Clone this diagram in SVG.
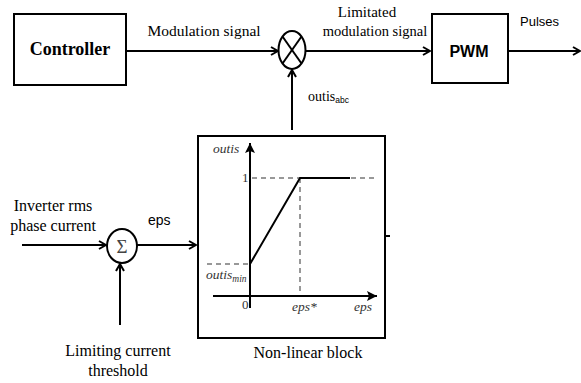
<svg xmlns="http://www.w3.org/2000/svg" width="581" height="383" viewBox="0 0 581 383">
<defs>
<marker id="arr" viewBox="0 0 10 10" refX="9" refY="5" markerWidth="10" markerHeight="10" markerUnits="userSpaceOnUse" orient="auto">
<polyline points="2,1 9,5 2,9" fill="none" stroke="#000" stroke-width="2"/>
</marker>
<marker id="tri" viewBox="0 0 10 10" refX="10" refY="5" markerWidth="10" markerHeight="10" markerUnits="userSpaceOnUse" orient="auto">
<path d="M0,0 L10,5 L0,10 L2,5 Z" fill="#000"/>
</marker>
</defs>
<style>
.box{fill:#fff;stroke:#000;stroke-width:2}
.ln{fill:none;stroke:#000;stroke-width:2}
.dash{fill:none;stroke:#777;stroke-width:1.5;stroke-dasharray:5,4}
.serif{font-family:"Liberation Serif","Times New Roman",serif;fill:#000}
.sans{font-family:"Liberation Sans",Arial,sans-serif;fill:#000}
.it{font-family:"Liberation Serif","Times New Roman",serif;font-style:italic;fill:#333}
</style>
<rect width="581" height="383" fill="#fff"/>
<g id="controller">
<rect class="box" x="14" y="14" width="112" height="71"/>
<text class="serif" x="70" y="55" font-size="18" font-weight="bold" text-anchor="middle">Controller</text>
</g>
<g id="multiplier">
<ellipse class="ln" cx="292" cy="50" rx="13.5" ry="19"/>
<line class="ln" x1="282.5" y1="36.5" x2="301.5" y2="63.5" stroke-width="1.8"/>
<line class="ln" x1="301.5" y1="36.5" x2="282.5" y2="63.5" stroke-width="1.8"/>
</g>
<g id="pwm">
<rect class="box" x="432" y="14" width="76" height="69"/>
<text class="sans" x="469" y="57" font-size="16" font-weight="bold" text-anchor="middle">PWM</text>
</g>
<g id="sum">
<ellipse class="ln" cx="122" cy="246" rx="15" ry="17" stroke-width="1.8"/>
<text class="serif" x="122" y="253" font-size="19" text-anchor="middle" style="fill:#444">Σ</text>
</g>
<g id="nonlinear">
<rect class="box" x="198" y="136" width="187" height="202"/>
<line class="dash" x1="252" y1="178" x2="378" y2="178"/>
<line class="dash" x1="300" y1="178" x2="300" y2="296"/>
<line class="dash" x1="207" y1="264" x2="250" y2="264"/>
<line class="ln" x1="250" y1="308" x2="250" y2="143" marker-end="url(#tri)" stroke-width="1.5"/>
<line class="ln" x1="213" y1="296" x2="377" y2="296" marker-end="url(#tri)" stroke-width="1.5"/>
<polyline class="ln" points="250,264 300,178 350,178"/>
<text class="it" x="213" y="153" font-size="13.5">outis</text>
<text class="serif" x="242" y="182" font-size="13" style="fill:#333">1</text>
<text class="it" x="206" y="279" font-size="13.5">outis<tspan font-size="9.5" dy="3">min</tspan></text>
<text class="serif" x="242" y="309" font-size="13" style="fill:#333">0</text>
<text class="it" x="292" y="311" font-size="13.5">eps*</text>
<text class="it" x="354" y="311" font-size="13.5">eps</text>
<line class="ln" x1="385" y1="236" x2="390" y2="236" stroke-width="1.5"/>
<text class="serif" x="308" y="358" font-size="16" text-anchor="middle">Non-linear block</text>
</g>
<g id="connectors">
<line class="ln" x1="126" y1="51" x2="278" y2="51" marker-end="url(#arr)"/>
<line class="ln" x1="306" y1="51" x2="430" y2="51" marker-end="url(#arr)"/>
<line class="ln" x1="508" y1="51" x2="580" y2="51" marker-end="url(#arr)"/>
<line class="ln" x1="292" y1="130" x2="292" y2="70" marker-end="url(#arr)"/>
<line class="ln" x1="22" y1="245" x2="106" y2="245" marker-end="url(#arr)"/>
<line class="ln" x1="137" y1="245" x2="196" y2="245" marker-end="url(#arr)"/>
<line class="ln" x1="120" y1="325" x2="120" y2="264" marker-end="url(#arr)"/>
</g>
<g id="labels">
<text class="serif" x="204" y="36" font-size="15.5" text-anchor="middle">Modulation signal</text>
<text class="serif" x="367" y="17" font-size="15" text-anchor="middle">Limitated</text>
<text class="serif" x="375" y="36" font-size="14.5" text-anchor="middle">modulation signal</text>
<text class="sans" x="520" y="26" font-size="13">Pulses</text>
<text class="serif" x="308" y="101" font-size="14">outis<tspan class="sans" font-size="8.5" dy="2">abc</tspan></text>
<text class="serif" x="53" y="211" font-size="16" text-anchor="middle">Inverter rms</text>
<text class="serif" x="53" y="231" font-size="16" text-anchor="middle">phase current</text>
<text class="sans" x="148" y="225" font-size="14">eps</text>
<text class="serif" x="118" y="356" font-size="16" text-anchor="middle">Limiting current</text>
<text class="serif" x="118" y="376" font-size="16" text-anchor="middle">threshold</text>
</g>
</svg>
